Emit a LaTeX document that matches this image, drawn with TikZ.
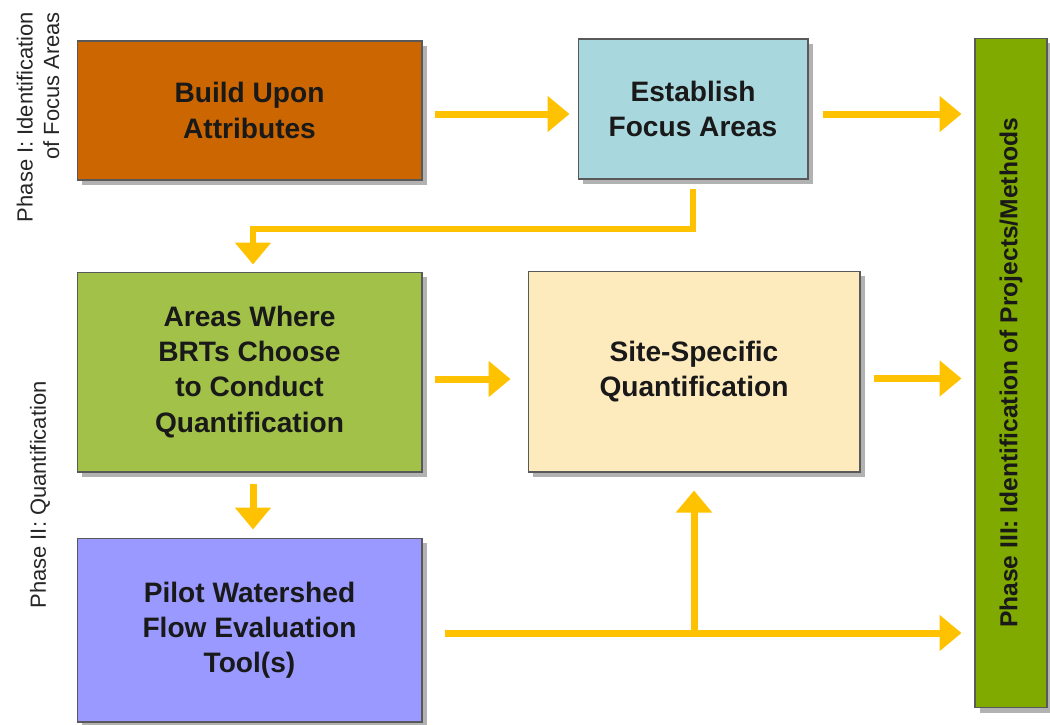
\documentclass[tikz,border=0pt]{standalone}
\usepackage{fontspec}
\setmainfont{Liberation Sans}
\usepackage{graphicx}
\usepackage{tikz}
\usetikzlibrary{shapes,arrows.meta,positioning,calc,shadows}
\usepackage{xcolor}
\definecolor{buildc}{RGB}{204,102,0}
\definecolor{focusc}{RGB}{168,216,222}
\definecolor{areasc}{RGB}{162,193,72}
\definecolor{sitec}{RGB}{253,235,190}
\definecolor{pilotc}{RGB}{153,153,255}
\definecolor{phasec}{RGB}{128,170,0}
\definecolor{arrowc}{RGB}{255,194,0}

\begin{document}
\begin{tikzpicture}[
    x=0.02cm, y=-0.02cm,
    block/.style={rectangle, draw=black!65, line width=0.6pt, text=black!90, align=center, font=\fontsize{16}{20}\selectfont\bfseries, general shadow={fill=black!30, shadow xshift=0.1cm, shadow yshift=-0.1cm}},
    phase/.style={rotate=90, inner sep=0pt, text=black!85, font=\fontsize{12.5}{15}\selectfont},
    arrow/.style={-{Triangle[length=0.44cm, width=0.7cm]}, line width=0.14cm, draw=arrowc}
]
\useasboundingbox (0,0) rectangle (1050,724);

% Phase labels
\node[phase, align=right] (phase1) at (38,117) {Phase I: Identification\\of Focus Areas};
\node[phase] (phase2) at (40,495) {Phase II: Quantification};

% Phase I
\node[block, fill=buildc, minimum width=6.9cm, minimum height=2.78cm] (build) at (249.5,110.5) {Build Upon\\Attributes};
\node[block, fill=focusc, minimum width=4.6cm, minimum height=2.8cm] (focus) at (693,109) {Establish\\Focus Areas};

% Phase II
\node[block, fill=areasc, minimum width=6.9cm, minimum height=4cm] (areas) at (249.5,372) {Areas Where\\BRTs Choose\\to Conduct\\Quantification};
\node[block, fill=sitec, minimum width=6.64cm, minimum height=4.02cm] (site) at (694,371.5) {Site-Specific\\Quantification};
\node[block, fill=pilotc, minimum width=6.9cm, minimum height=3.68cm] (pilot) at (249.5,630) {Pilot Watershed\\Flow Evaluation\\Tool(s)};

% Phase III
\node[block, fill=phasec, minimum width=1.44cm, minimum height=13.4cm, font=\fontsize{14}{17}\selectfont\bfseries] (phase3) at (1011,373) {\rotatebox{90}{Phase III: Identification of Projects/Methods}};

% Arrows
\draw[arrow, shorten <=0.26cm, shorten >=0.16cm] ($(build.east)+(0,3.5)$) -- ($(build.east -| focus.west)+(0,3.5)$);
\draw[arrow, shorten <=0.28cm, shorten >=0.26cm] ($(focus.east)+(0,5)$) -- ($(focus.east -| phase3.west)+(0,5)$);
\draw[arrow, line width=0.12cm, shorten <=0.18cm, shorten >=0.14cm] (focus.south) -- ++(0,49) -| ([xshift=0.07cm]areas.north);
\draw[arrow, shorten <=0.26cm, shorten >=0.34cm] ($(areas.east)+(0,7)$) -- ($(areas.east -| site.west)+(0,7)$);
\draw[arrow, shorten <=0.26cm, shorten >=0.26cm] ($(site.east)+(0,7)$) -- ($(site.east -| phase3.west)+(0,7)$);
\draw[arrow, shorten <=0.22cm, shorten >=0.16cm] ([xshift=0.07cm]areas.south) -- ([xshift=0.07cm]pilot.north);

\coordinate (split) at ($(pilot.east -| site.south)+(0,3)$);
\draw[arrow, shorten <=0.46cm, shorten >=0.26cm] ($(pilot.east)+(0,3)$) -- ($(pilot.east -| phase3.west)+(0,3)$);
\draw[arrow, shorten >=0.36cm] (split) -- (split |- site.south);

\end{tikzpicture}
\end{document}
